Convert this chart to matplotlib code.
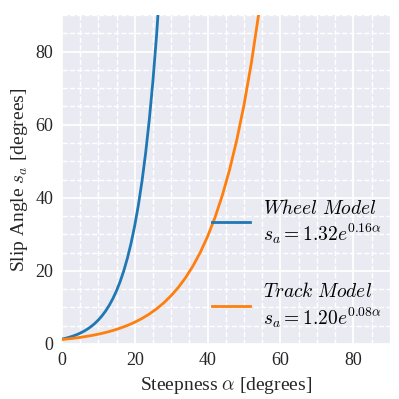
import matplotlib
matplotlib.use('Agg')
import matplotlib.pyplot as plt
from matplotlib.ticker import MultipleLocator

# steepness [deg] and slip angle [deg]
alpha_wheel = [0, 1, 2, 3, 4, 5, 6, 7, 8, 9, 10, 11, 12, 13, 14, 15, 16, 17, 18, 19,
               20, 21, 22, 23, 24, 25, 26, 27]
slip_wheel = [1.320, 1.549, 1.818, 2.133, 2.503, 2.938, 3.447, 4.046, 4.748, 5.571,
              6.538, 7.672, 9.004, 10.566, 12.399, 14.551, 17.075, 20.038, 23.515, 27.595,
              32.383, 38.002, 44.595, 52.333, 61.414, 72.070, 84.574, 99.249]

alpha_track = [0, 2, 4, 6, 8, 10, 12, 14, 16, 18, 20, 22, 24, 26, 28, 30, 32, 34, 36, 38,
               40, 42, 44, 46, 48, 50, 52, 54, 56]
slip_track = [1.200, 1.408, 1.653, 1.939, 2.276, 2.671, 3.134, 3.678, 4.316, 5.065,
              5.944, 6.975, 8.185, 9.605, 11.272, 13.228, 15.523, 18.216, 21.377, 25.086,
              29.439, 34.547, 40.541, 47.576, 55.831, 65.518, 76.886, 90.226, 105.88]

label_wheel = r'$\mathit{Wheel\ Model}$' + '\n' + r'$s_a = 1.32e^{0.16\alpha}$'
label_track = r'$\mathit{Track\ Model}$' + '\n' + r'$s_a = 1.20e^{0.08\alpha}$'

plt.rcParams['font.family'] = ['Liberation Serif', 'DejaVu Serif']
plt.rcParams['mathtext.fontset'] = 'cm'

fig = plt.figure(figsize=(3.99, 3.99), dpi=100)
ax = fig.add_axes([0.155, 0.138, 0.822, 0.824])
ax.set_facecolor('#EAEAF2')
for s in ax.spines.values():
    s.set_visible(False)

ax.plot(alpha_wheel, slip_wheel, color='#1f77b4', lw=2, label=label_wheel)
ax.plot(alpha_track, slip_track, color='#ff7f0e', lw=2, label=label_track)

ax.set_xlim(0, 90)
ax.set_ylim(0, 90)
ax.xaxis.set_major_locator(MultipleLocator(20))
ax.yaxis.set_major_locator(MultipleLocator(20))
ax.xaxis.set_minor_locator(MultipleLocator(5))
ax.yaxis.set_minor_locator(MultipleLocator(5))
ax.grid(which='major', color='white', lw=1.3, ls='-')
ax.grid(which='minor', color='white', lw=1.0, ls='--')
ax.set_axisbelow(True)
ax.tick_params(which='both', length=0, labelsize=13, colors='#262626', pad=6)

ax.set_xlabel(r'Steepness $\alpha$ [degrees]', fontsize=14, color='#262626')
ax.set_ylabel(r'Slip Angle $s_a$ [degrees]', fontsize=14, color='#262626')

ax.legend(loc='lower right', frameon=False, fontsize=14, labelspacing=1.85,
          handlelength=2.0, handletextpad=0.65, bbox_to_anchor=(1.029, -0.01))

fig.savefig('out.png', dpi=100)
